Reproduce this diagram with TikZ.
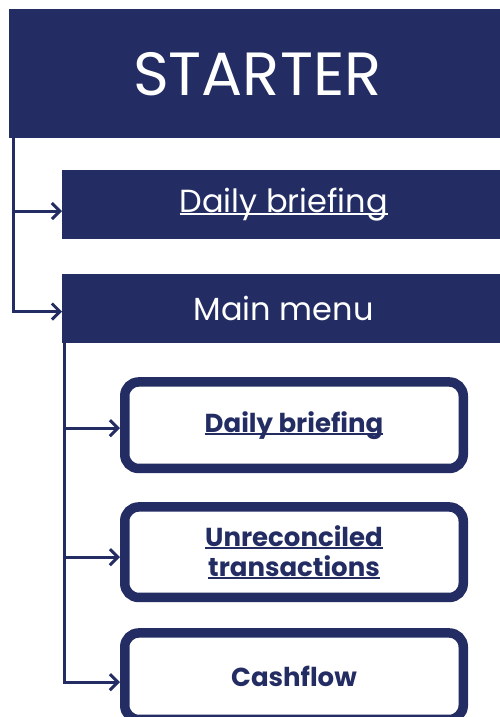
\documentclass[tikz,border=0pt]{standalone}
\usepackage{fontspec}
\setmainfont{Poppins}
\usepackage{tikz}
\usetikzlibrary{arrows.meta,positioning,shapes}
\definecolor{navy}{HTML}{232D63}
\newcommand\uln[1]{\setbox0\hbox{#1}\rlap{\rule[-.1em]{\wd0}{.07em}}\box0}

\tikzset{
  bar/.style={fill=navy, text=white, inner sep=0pt, anchor=north west},
  item/.style={draw=navy, line width=9.5pt, rounded corners=14pt, fill=white,
    text=navy, font=\fontsize{26}{30}\selectfont\bfseries, align=center,
    minimum width=338.5pt, minimum height=86.5pt},
  link/.style={navy, line width=3pt, -{Straight Barb[length=8pt,width=16pt,line width=3pt]}}
}

\begin{document}
\begin{tikzpicture}[x=1pt,y=-1pt]
        \useasboundingbox (0,0) rectangle (499,717);

        \node[bar, minimum width=496pt, minimum height=129pt,
          font=\fontsize{61}{70}\selectfont] (a) at (9,9) {STARTER};

        \node[bar, minimum width=443pt, minimum height=69pt,
          font=\fontsize{32}{38}\selectfont]
          (b) [below right=31pt and 53pt of a.south west] {\uln{Daily briefing}};

        \node[bar, minimum width=443pt, minimum height=69pt,
          font=\fontsize{32}{38}\selectfont]
          (c) [below right=35pt and 0pt of b.south west] {Main menu};

        \node[item] (d) [below right=34pt and 58pt of c.south west] {\uln{Daily briefing}};
        \node[item, minimum height=90.5pt] (e) [below=29pt of d] {\uln{Unreconciled}\\\uln{transactions}};
        \node[item] (f) [below=26pt of e] {Cashflow};

        \coordinate (t) at ([xshift=4pt]a.south west);
        \coordinate (m) at ([xshift=2pt]c.south west);

        \draw[link] (t) |- ([yshift=-7pt]b.west);
        \draw[link] (t) |- ([yshift=-3pt]c.west);
        \draw[link] (m) |- ([yshift=-3pt]d.west);
        \draw[link] (m) |- ([yshift=-5pt]e.west);
        \draw[link] (m) |- ([yshift=-6pt]f.west);

\end{tikzpicture}
\end{document}
